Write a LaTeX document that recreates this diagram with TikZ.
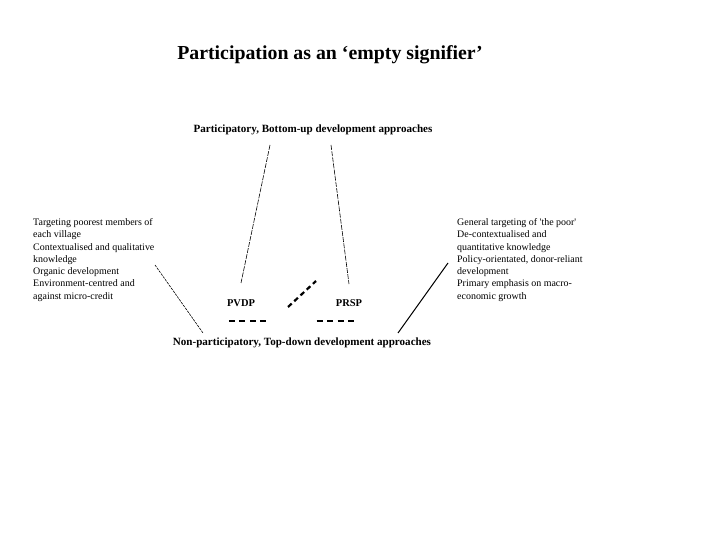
\documentclass[tikz,border=0pt]{standalone}
\usepackage{fontspec}
\setmainfont{Liberation Serif}
\usetikzlibrary{positioning}

\tikzset{
  heading/.style={font=\bfseries\fontsize{11.1}{13}\selectfont, inner sep=0pt},
  listbox/.style={align=flush left, anchor=north west, inner sep=0pt, text width=160bp, font=\fontsize{10}{12.3}\selectfont},
  thinlink/.style={line width=0.6bp, dash pattern=on 5bp off 1.2bp},
  dotlink/.style={line width=0.6bp, dash pattern=on 2.5bp off 1bp},
  heavydash/.style={line width=2.2bp, dash pattern=on 5bp off 3.5bp}
}

\begin{document}
\begin{tikzpicture}[x=1bp, y=-1bp]
            \useasboundingbox (0,0) rectangle (720,540);
            \node[font=\bfseries\fontsize{19.9}{23}\selectfont] (title) at (330,55) {Participation as an ‘empty signifier’};
            \node[heading] (top) at (313,130) {Participatory, Bottom-up development approaches};
            \node[heading] (bottom) at (302,343) {Non-participatory, Top-down development approaches};
            \node[heading, font=\bfseries\fontsize{10.5}{12}\selectfont] (pvdp) at (241,303) {PVDP};
            \node[heading, font=\bfseries\fontsize{10.5}{12}\selectfont] (prsp) at (349,303) {PRSP};
            \node[listbox] (left) at (33,218.5) {Targeting poorest members of\\each village\\Contextualised and qualitative\\knowledge\\Organic development\\Environment-centred and\\against micro-credit};
            \node[listbox] (right) at (457,218.5) {General targeting of \textquotesingle the poor\textquotesingle\\De-contextualised and\\quantitative knowledge\\Policy-orientated, donor-reliant\\development\\Primary emphasis on macro-\\economic growth};
            % links
            \coordinate (tl) at (270,145);
            \coordinate (pl) at (241,283);
            \coordinate (tr) at (331,145);
            \coordinate (pr) at (349,284);
            \coordinate (ll) at (155,265);
            \coordinate (bl) at (203,333);
            \coordinate (rr) at (448,263);
            \coordinate (br) at (398,333);
            \coordinate (m1) at (288,307);
            \coordinate (m2) at (316,281);
            \draw[thinlink] (tl) -- (pl);
            \draw[thinlink] (tr) -- (pr);
            \draw[dotlink] (ll) -- (bl);
            \draw[line width=1bp] (rr) -- (br);
            \draw[heavydash] (m1) -- (m2);
            \draw[line width=2bp, dash pattern=on 6bp off 4.5bp] (pvdp.south west) ++(2,14) -- ++(38,0);
            \draw[line width=2bp, dash pattern=on 6bp off 4.5bp] (prsp.south west) ++(-19,14) -- ++(38,0);
        \end{tikzpicture}
\end{document}
